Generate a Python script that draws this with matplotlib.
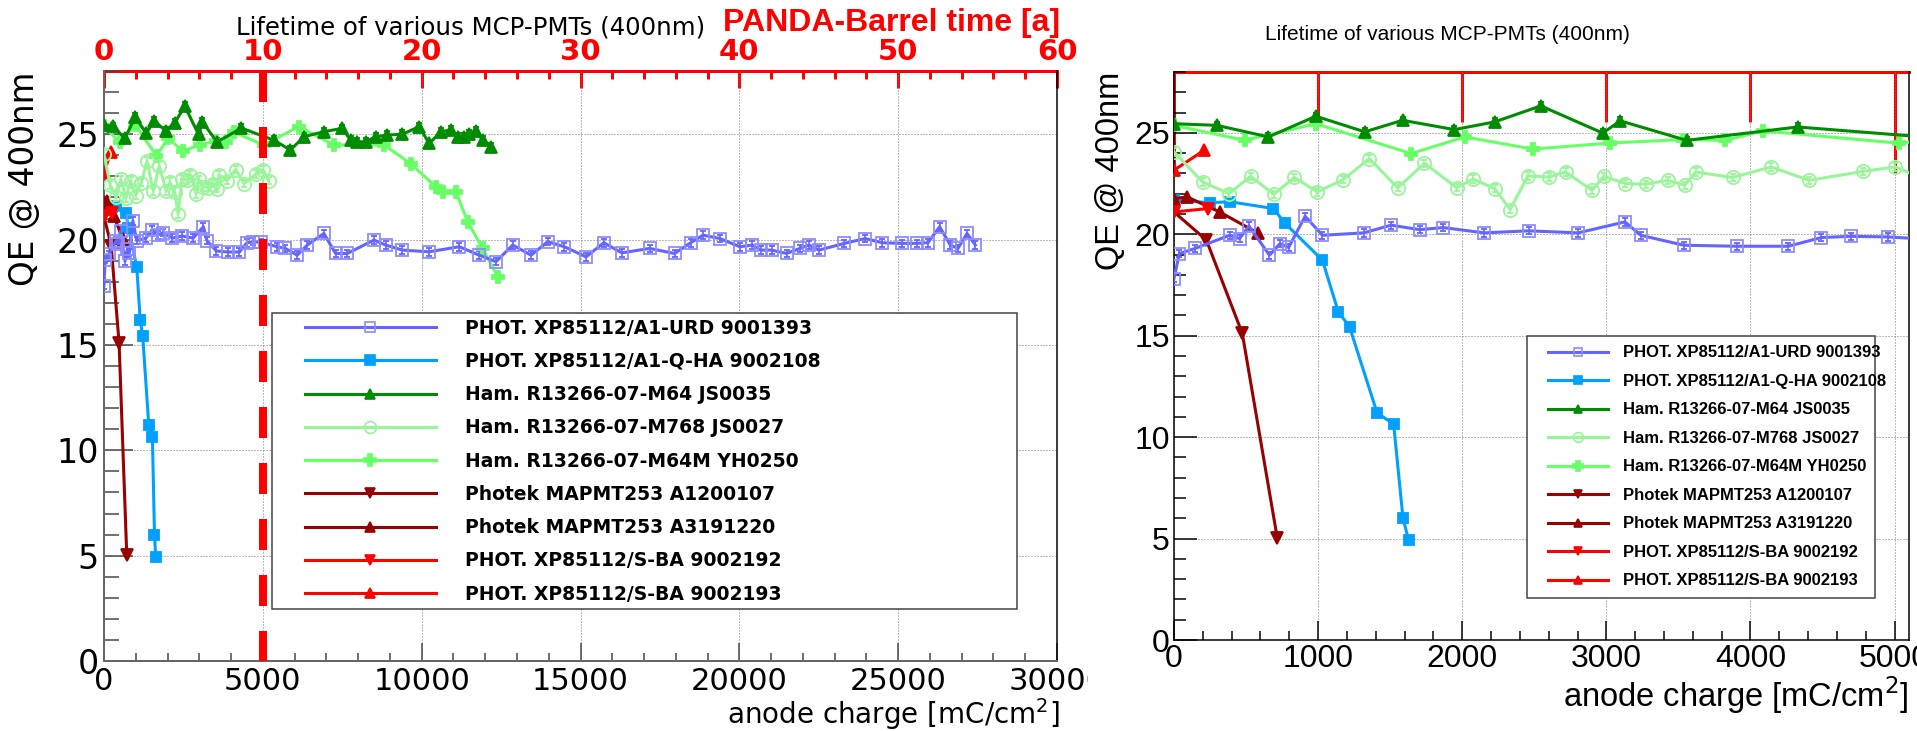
import matplotlib
matplotlib.use("Agg")
import matplotlib.pyplot as plt
from matplotlib.lines import Line2D
from matplotlib.patches import Rectangle
from matplotlib.ticker import MultipleLocator
from matplotlib.legend_handler import HandlerLine2D

# QE @ 400nm versus integrated anode charge [mC/cm^2]
urd_x = [0, 37, 145, 386, 455, 520, 662, 736, 795, 910, 1030, 1317, 1506, 1704, 1869, 2152, 2460, 2803,
         3129, 3239, 3538, 3906, 4263, 4492, 4699, 4952, 5449, 5712, 6081, 6396, 6922, 7290, 7659, 8500,
         8868, 9394, 10236, 11183, 11814, 12340, 12866, 13444, 13970, 14492, 15175, 15733, 16301, 17174,
         17963, 18469, 18858, 19384, 20015, 20404, 20677, 21014, 21487, 21908, 22192, 22508, 23307, 23959,
         24506, 25116, 25589, 25936, 26305, 26641, 26883, 27167, 27430]
urd_y = [17.82, 19.05, 19.3, 19.95, 19.79, 20.41, 18.97, 19.54, 19.35, 20.89, 19.95, 20.07, 20.45, 20.23,
         20.33, 20.07, 20.17, 20.07, 20.61, 19.95, 19.46, 19.41, 19.41, 19.84, 19.9, 19.87, 19.66, 19.58,
         19.26, 19.74, 20.29, 19.34, 19.34, 19.98, 19.74, 19.5, 19.42, 19.66, 19.26, 18.95, 19.74, 19.26,
         19.9, 19.66, 19.18, 19.85, 19.37, 19.58, 19.34, 19.85, 20.21, 20.05, 19.66, 19.74, 19.5, 19.5,
         19.34, 19.58, 19.74, 19.5, 19.82, 20.05, 19.85, 19.82, 19.82, 19.85, 20.61, 19.74, 19.58, 20.29,
         19.74]

qha_x = [0, 248, 391, 690, 768, 1030, 1140, 1218, 1409, 1524, 1589, 1628]
qha_y = [21.68, 21.56, 21.6, 21.27, 20.56, 18.72, 16.18, 15.44, 11.2, 10.64, 6.0, 4.93]

js35_x = [0, 297, 655, 984, 1324, 1586, 1945, 2225, 2545, 2975, 3097, 3557, 4327, 5344, 5870, 6291,
          6922, 7501, 7764, 7974, 8237, 8553, 8921, 9394, 9920, 10236, 10604, 10920, 11130, 11341,
          11498, 11709, 11919, 12182]
js35_y = [25.45, 25.37, 24.8, 25.82, 25.05, 25.62, 25.16, 25.54, 26.33, 24.99, 25.59, 24.63, 25.29,
          24.72, 24.25, 24.88, 25.12, 25.28, 24.72, 24.64, 24.64, 24.88, 24.96, 25.0, 25.36, 24.56,
          25.12, 25.2, 24.88, 24.88, 25.0, 25.17, 24.72, 24.4]

js27_x = [0, 198, 382, 531, 692, 835, 995, 1175, 1356, 1552, 1738, 1961, 2076, 2225, 2333, 2455, 2600,
          2717, 2901, 2982, 3131, 3274, 3428, 3543, 3619, 3876, 4143, 4407, 4780, 5005, 5180]
js27_y = [24.06, 22.58, 22.0, 22.86, 21.97, 22.8, 22.09, 22.7, 23.73, 22.29, 23.5, 22.3, 22.72, 22.25,
          21.22, 22.88, 22.82, 23.07, 22.17, 22.86, 22.5, 22.47, 22.66, 22.42, 23.07, 22.8, 23.32, 22.66,
          23.1, 23.32, 22.8]

yh_x = [0, 490, 984, 1646, 2018, 2490, 3028, 3534, 3826, 4085, 5029, 6133, 7238, 8816, 9657, 10447,
        10657, 11078, 11446, 11919, 12393]
yh_y = [25.37, 24.63, 25.45, 23.98, 24.8, 24.2, 24.5, 24.67, 24.63, 25.1, 24.49, 25.36, 24.49, 24.49,
        23.6, 22.5, 22.27, 22.27, 20.85, 19.58, 18.24]

ph107_x = [0, 225, 474, 716]
ph107_y = [21.1, 19.71, 15.11, 5.05]
ph220_x = [0, 92, 317, 586]
ph220_y = [21.76, 21.84, 21.1, 20.04]
sba192_x = [0, 237]
sba192_y = [21.1, 21.27]
sba193_x = [0, 209]
sba193_y = [23.16, 24.14]

labels = ["PHOT. XP85112/A1-URD 9001393", "PHOT. XP85112/A1-Q-HA 9002108",
          "Ham. R13266-07-M64 JS0035", "Ham. R13266-07-M768 JS0027",
          "Ham. R13266-07-M64M YH0250", "Photek MAPMT253 A1200107",
          "Photek MAPMT253 A3191220", "PHOT. XP85112/S-BA 9002192",
          "PHOT. XP85112/S-BA 9002193"]

series = [(urd_x, urd_y), (qha_x, qha_y), (js35_x, js35_y), (js27_x, js27_y), (yh_x, yh_y),
          (ph107_x, ph107_y), (ph220_x, ph220_y), (sba192_x, sba192_y), (sba193_x, sba193_y)]

styles = [
    dict(color="#6464ff", marker="s", mfc="none", mec="#8c8cff", ms=8, err=True),
    dict(color="#00a0ff", marker="s", ms=7.5, err=False),
    dict(color="#008c00", marker="^", ms=8, err=True),
    dict(color="#99f599", marker="o", mfc="none", ms=9.5, err=True),
    dict(color="#66ff66", marker="P", ms=9, err=False),
    dict(color="#990000", marker="v", ms=8, err=False),
    dict(color="#990000", marker="^", ms=8, err=False),
    dict(color="#ff0000", marker="v", ms=8, err=False),
    dict(color="#ff0000", marker="^", ms=8, err=False),
]

W, H = 1917, 731
PX = 0.72  # one pixel in points at dpi 100


def fbox(x0, y0, x1, y1):
    return [x0 / W, 1 - y1 / H, (x1 - x0) / W, (y1 - y0) / H]


def draw_series(ax, msc):
    for (xs, ys), st in zip(series, styles):
        kw = dict(color=st["color"], lw=2.2, marker=st["marker"], ms=st["ms"] * msc,
                  mfc=st.get("mfc", st["color"]), mec=st.get("mec", st["color"]), mew=1.3, zorder=3)
        if st["err"]:
            ax.errorbar(xs, ys, yerr=0.18, elinewidth=1.2, capsize=2, capthick=1.2,
                        ecolor=st["color"], **kw)
        else:
            ax.plot(xs, ys, **kw)


def handles(msc):
    return [Line2D([], [], color=st["color"], lw=2.2, marker=st["marker"], ms=st["ms"] * msc,
                   mfc=st.get("mfc", st["color"]), mec=st.get("mec", st["color"]), mew=1.2)
            for st in styles]


fig = plt.figure(figsize=(W / 100, H / 100), dpi=100)

# ---------------- left pad ----------------
ax1 = fig.add_axes(fbox(104, 71, 1057, 661))
ax1.set_xlim(0, 30000)
ax1.set_ylim(0, 28)
draw_series(ax1, 1.0)
ax1.plot([5000, 5000], [28, 0], color="red", lw=8 * PX, dashes=(3.875, 3.125), zorder=5)

ax1.set_xticks(range(0, 30001, 5000))
ax1.set_yticks(range(0, 26, 5))
ax1.xaxis.set_minor_locator(MultipleLocator(1000))
ax1.yaxis.set_minor_locator(MultipleLocator(1))
ax1.tick_params(axis="x", which="major", direction="in", length=18 * PX, width=1.5 * PX,
                color="#444444", labelsize=22, pad=4.5, labelfontfamily="DejaVu Sans")
ax1.tick_params(axis="x", which="minor", direction="in", length=8 * PX, width=1.5 * PX, color="#444444")
ax1.tick_params(axis="y", which="major", direction="in", length=29 * PX, width=1.5 * PX,
                color="#444444", labelsize=24, pad=3.6, labelfontfamily="DejaVu Sans")
ax1.tick_params(axis="y", which="minor", direction="in", length=15 * PX, width=1.5 * PX, color="#444444")
ax1.grid(True, which="major", linestyle=(0, (1, 2)), color="#777777", lw=1 * PX)
ax1.set_axisbelow(True)
for s in ("left", "bottom"):
    ax1.spines[s].set_color("#666666")
    ax1.spines[s].set_linewidth(2 * PX)
ax1.spines["right"].set_linewidth(1.5 * PX)
ax1.spines["top"].set_visible(False)

top1 = ax1.secondary_xaxis("top", functions=(lambda q: q / 500.0, lambda t: t * 500.0))
top1.set_xticks(range(0, 61, 10), [str(v) for v in range(0, 61, 10)], fontsize=21,
                fontweight="bold", color="red", family="DejaVu Sans")
top1.xaxis.set_minor_locator(MultipleLocator(2))
top1.tick_params(which="major", direction="in", length=17 * PX, width=3 * PX, color="red", pad=3.6)
top1.tick_params(which="minor", direction="in", length=8 * PX, width=3 * PX, color="red")
top1.spines["top"].set_color("red")
top1.spines["top"].set_linewidth(3 * PX)

fs1 = 13.5 / PX
leg1 = ax1.legend(handles(0.9), labels, loc="upper left",
                  bbox_to_anchor=fbox(272, 313, 1017, 610), bbox_transform=fig.transFigure,
                  mode="expand", borderaxespad=0, borderpad=0.3, labelspacing=0.76,
                  handlelength=158 / fs1, handletextpad=29 / fs1, fancybox=False, framealpha=1,
                  edgecolor="#404040", prop=dict(family="DejaVu Sans", weight="bold", size=13.5),
                  handler_map={Line2D: HandlerLine2D(xpad=27 / fs1)})
leg1.get_frame().set_linewidth(1.5 * PX)
leg1.set_zorder(6)

fig.text(471 / W, 1 - 34 / H, "Lifetime of various MCP-PMTs (400nm)", ha="center", va="baseline",
         fontsize=17.6)
fig.text(1060 / W, 1 - 31 / H, "PANDA-Barrel time [a]", ha="right", va="baseline", fontsize=23,
         fontweight="bold", color="red", family="Liberation Sans")
fig.text(24 / W, 1 - 72 / H, "QE @ 400nm", rotation=90, ha="center", va="top", fontsize=23.5)
fig.text(1060 / W, 1 - 714 / H, "anode charge [mC/cm$^{2}$]", ha="right", va="center", fontsize=20)

# ---------------- right pad (drawn on top of the left one) ----------------
fig.patches.append(Rectangle((1088 / W, 0), (W - 1088) / W, 1, transform=fig.transFigure,
                             facecolor="white", edgecolor="none", zorder=1))

ax2 = fig.add_axes(fbox(1174, 72, 1909, 640))
ax2.set_zorder(2)
ax2.set_xlim(0, 5100)
ax2.set_ylim(0, 28)
draw_series(ax2, 1.0)

ax2.set_xticks(range(0, 5001, 1000))
ax2.set_yticks(range(0, 26, 5))
ax2.xaxis.set_minor_locator(MultipleLocator(200))
ax2.yaxis.set_minor_locator(MultipleLocator(1))
ax2.tick_params(axis="x", which="major", direction="in", length=19 * PX, width=1.5 * PX,
                labelsize=23, pad=3, labelfontfamily="Liberation Sans")
ax2.tick_params(axis="x", which="minor", direction="in", length=9 * PX, width=1.5 * PX)
ax2.tick_params(axis="y", which="major", direction="in", length=23 * PX, width=1.5 * PX,
                labelsize=23, pad=3, labelfontfamily="Liberation Sans")
ax2.tick_params(axis="y", which="minor", direction="in", length=12 * PX, width=1.5 * PX)
ax2.grid(True, which="major", linestyle=(0, (1, 2)), color="#777777", lw=1 * PX)
ax2.set_axisbelow(True)
for s in ("left", "bottom", "right"):
    ax2.spines[s].set_linewidth(1.5 * PX)
ax2.spines["top"].set_visible(False)

top2 = ax2.secondary_xaxis("top", functions=(lambda q: q / 500.0, lambda t: t * 500.0))
top2.set_xticks([0, 10], ["", ""])
top2.xaxis.set_minor_locator(MultipleLocator(2))
top2.tick_params(which="major", direction="in", length=101 * PX, width=3 * PX, color="red")
top2.tick_params(which="minor", direction="in", length=50 * PX, width=3 * PX, color="red")
top2.spines["top"].set_color("red")
top2.spines["top"].set_linewidth(3 * PX)

fs2 = 12 / PX
leg2 = ax2.legend(handles(0.75), labels, loc="upper left",
                  bbox_to_anchor=fbox(1527, 336, 1875, 592), bbox_transform=fig.transFigure,
                  mode="expand", borderaxespad=0, borderpad=0.56, labelspacing=0.81,
                  handlelength=72 / fs2, handletextpad=15 / fs2, fancybox=False, framealpha=1,
                  edgecolor="#404040", prop=dict(family="Liberation Sans", weight="bold", size=12),
                  handler_map={Line2D: HandlerLine2D(xpad=12 / fs2)})
leg2.get_frame().set_linewidth(1.5 * PX)
leg2.set_zorder(6)

fig.text(1447 / W, 1 - 40 / H, "Lifetime of various MCP-PMTs (400nm)", ha="center", va="baseline",
         fontsize=15, family="Liberation Sans", zorder=3)
fig.text(1110 / W, 1 - 72 / H, "QE @ 400nm", rotation=90, ha="center", va="top", fontsize=23.5,
         family="Liberation Sans", zorder=3)
fig.text(1909 / W, 1 - 695 / H, "anode charge [mC/cm$^{2}$]", ha="right", va="center", fontsize=23.5,
         family="Liberation Sans", zorder=3)

fig.savefig("out.png", dpi=100)
